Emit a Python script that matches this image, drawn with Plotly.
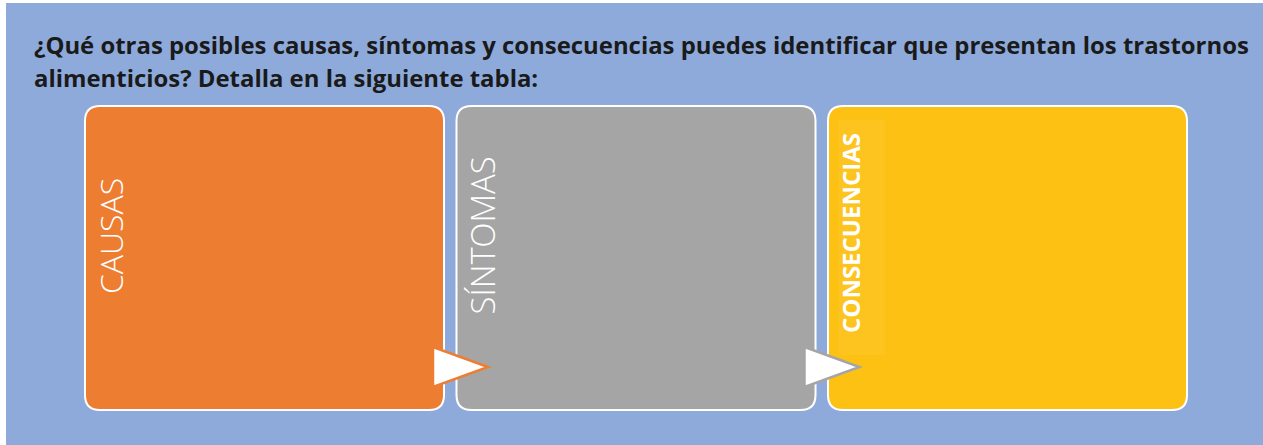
import plotly.graph_objects as go

# ---- data ----
title_lines = [
    "¿Qué otras posibles causas, síntomas y consecuencias puedes identificar que presentan los trastornos",
    "alimenticios? Detalla en la siguiente tabla:",
]
categories = ["CAUSAS", "SÍNTOMAS", "CONSECUENCIAS"]
box_colors = ["#ED7D31", "#A5A5A5", "#FDC113"]
label_bold = [False, False, True]
label_sizes = [32, 33, 24]

# ---- layout geometry ----
W, H = 1263, 445
BG = "#8EAADA"
box_x0, box_w, box_gap = 85, 359, 12.5
box_y0, box_y1 = 106, 410
radius = 15


def rrect(x0, y0, x1, y1, r):
    return (f"M {x0+r},{y0} L {x1-r},{y0} Q {x1},{y0} {x1},{y0+r} "
            f"L {x1},{y1-r} Q {x1},{y1} {x1-r},{y1} L {x0+r},{y1} "
            f"Q {x0},{y1} {x0},{y1-r} L {x0},{y0+r} Q {x0},{y0} {x0+r},{y0} Z")


fig = go.Figure()
shapes = []
annotations = []

# background panel
shapes.append(dict(type="rect", x0=6, y0=3, x1=W, y1=H, xref="x", yref="y",
                   fillcolor=BG, line=dict(width=0), layer="below"))

for i, (cat, col) in enumerate(zip(categories, box_colors)):
    x0 = box_x0 + i * (box_w + box_gap)
    x1 = x0 + box_w
    shapes.append(dict(type="path", path=rrect(x0, box_y0, x1, box_y1, radius),
                       fillcolor=col, line=dict(color="white", width=2),
                       xref="x", yref="y", layer="above"))
    if label_bold[i]:
        shapes.append(dict(type="rect", x0=x0 + 10, x1=x0 + 57, y0=box_y0 + 14, y1=box_y1 - 55,
                           fillcolor="rgba(255,255,255,0.06)", line=dict(width=0),
                           xref="x", yref="y", layer="above"))
    annotations.append(dict(
        x=x0 + (22 if label_bold[i] else 25), y=(box_y0 + box_y1) / 2 - (25 if label_bold[i] else 22),
        xref="x", yref="y", text=(f"<b>{cat}</b>" if label_bold[i] else cat),
        textangle=-90, showarrow=False, xanchor="center", yanchor="middle",
        font=dict(family="Open Sans" if label_bold[i] else "Open Sans Light, Lato, Open Sans",
                  size=label_sizes[i], color="white")))

# arrows between boxes
for i in range(len(categories) - 1):
    x_end = box_x0 + i * (box_w + box_gap) + box_w
    bx = x_end - 11
    tip = bx + 55
    path = f"M {bx},347 L {tip},367 L {bx},387 Z"
    shapes.append(dict(type="path", path=path, fillcolor="white",
                       line=dict(color=box_colors[i], width=2.5),
                       xref="x", yref="y", layer="above"))

# title
for j, line in enumerate(title_lines):
    annotations.append(dict(x=32, y=44 + j * 33, xref="x", yref="y", text=f"<b>{line}</b>",
                            showarrow=False, xanchor="left", yanchor="middle",
                            font=dict(family="Open Sans", size=23.9, color="#1a1a1a")))

fig.update_layout(
    width=W, height=H, margin=dict(l=0, r=0, t=0, b=0),
    paper_bgcolor="white", plot_bgcolor="white",
    xaxis=dict(range=[0, W], visible=False, fixedrange=True),
    yaxis=dict(range=[H, 0], visible=False, fixedrange=True),
    shapes=shapes, annotations=annotations, showlegend=False,
)
fig.write_html("out.html", config={"displayModeBar": False},
               post_script="document.body.style.margin='0px';document.body.style.overflow='hidden';")
